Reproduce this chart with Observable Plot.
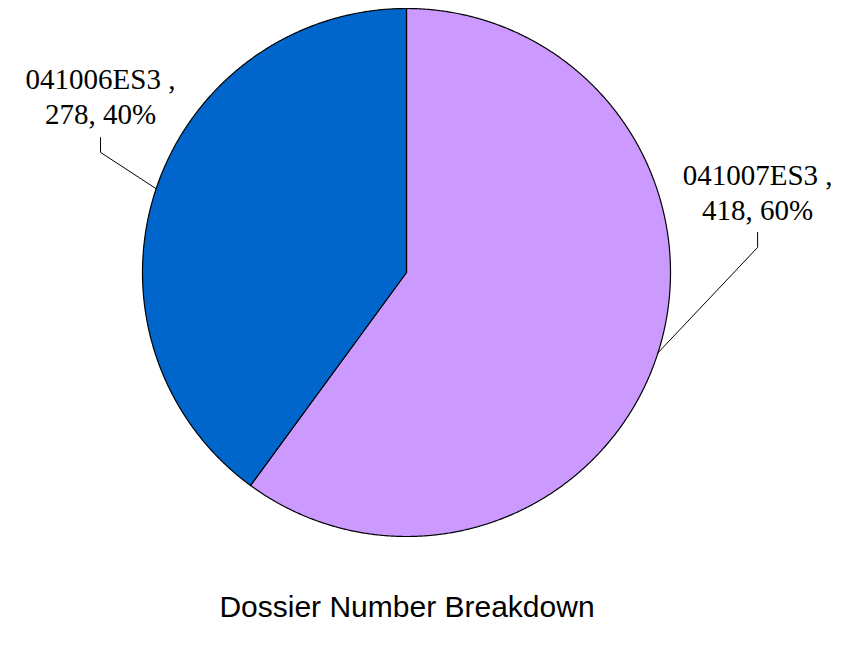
<!DOCTYPE html>
<html>
<head>
<meta charset="utf-8">
<script src="https://cdn.jsdelivr.net/npm/d3@7"></script>
<script src="https://cdn.jsdelivr.net/npm/@observablehq/plot@0.6"></script>
<style>
  body { margin: 0; background: #fff; }
  #wrap { width: 848px; height: 645px; position: relative; background: #fff; }
  #title { position: absolute; left: 0; width: 814px; top: 589px; text-align: center;
           font-family: "Liberation Sans", Arial, sans-serif; font-size: 30px; line-height: 36px; color: #000; }
</style>
</head>
<body>
<div id="wrap"><div id="chart"></div><div id="title">Dossier Number Breakdown</div></div>
<script>
// Data
const categories = ["041007ES3", "041006ES3"];
const values = [418, 278];
const percents = [60, 40];
const colors = ["#CC99FF", "#0066CC"];

// Layout (pixel geometry of the pie)
const cx = 406, cy = 272, R = 264;
// label layout in pie-radius units; anchorDeg = where the leader touches the rim (clockwise from top)
const labelLayout = {
  "041007ES3": {lx: 1.33, ly: (cy - 191) / R, anchorDeg: 107.7, elbowY: 0.095, topY: 0.152},
  "041006ES3": {lx: -1.159, ly: (cy - 95) / R, anchorDeg: 288.5, elbowY: 0.455, topY: 0.511}
};

const rows = categories.map((c, i) => ({name: c, value: values[i], pct: percents[i]}));
const arcs = d3.pie().sort(null).value(d => d.value).startAngle(0).endAngle(2 * Math.PI)(rows);

// slice outlines
const slicePts = [];
for (const a of arcs) {
  slicePts.push({name: a.data.name, x: 0, y: 0});
  const n = Math.max(2, Math.ceil((a.endAngle - a.startAngle) / 0.005));
  for (let k = 0; k <= n; k++) {
    const t = a.startAngle + (a.endAngle - a.startAngle) * k / n;
    slicePts.push({name: a.data.name, x: Math.sin(t), y: Math.cos(t)});
  }
  slicePts.push({name: a.data.name, x: 0, y: 0});
}

// leader lines and labels
const leaderPts = [];
const labels = [];
for (const a of arcs) {
  const L = labelLayout[a.data.name];
  const ang = L.anchorDeg * Math.PI / 180;
  leaderPts.push({name: a.data.name, x: Math.sin(ang), y: Math.cos(ang)});
  leaderPts.push({name: a.data.name, x: L.lx, y: L.elbowY});
  leaderPts.push({name: a.data.name, x: L.lx, y: L.topY});
  labels.push({x: L.lx, y: L.ly, text: `${a.data.name} ,\n${a.data.value}, ${a.data.pct}%`});
}

const chart = Plot.plot({
  width: 848,
  height: 575,
  margin: 0,
  x: {domain: [-1, 1], range: [cx - R, cx + R], axis: null},
  y: {domain: [-1, 1], range: [cy + R, cy - R], axis: null},
  color: {domain: categories, range: colors},
  style: {background: "#fff"},
  marks: [
    Plot.line(slicePts, {x: "x", y: "y", z: "name", fill: "name", stroke: "#000", strokeWidth: 1.2, curve: "linear"}),
    Plot.line(leaderPts, {x: "x", y: "y", z: "name", stroke: "#000", strokeWidth: 1}),
    Plot.text(labels, {x: "x", y: "y", text: "text", textAnchor: "middle", lineAnchor: "middle", lineHeight: 1.2,
      fontFamily: "'Liberation Serif', 'Times New Roman', serif", fontSize: 29, fill: "#000"})
  ]
});
document.getElementById("chart").appendChild(chart);
</script>
</body>
</html>
